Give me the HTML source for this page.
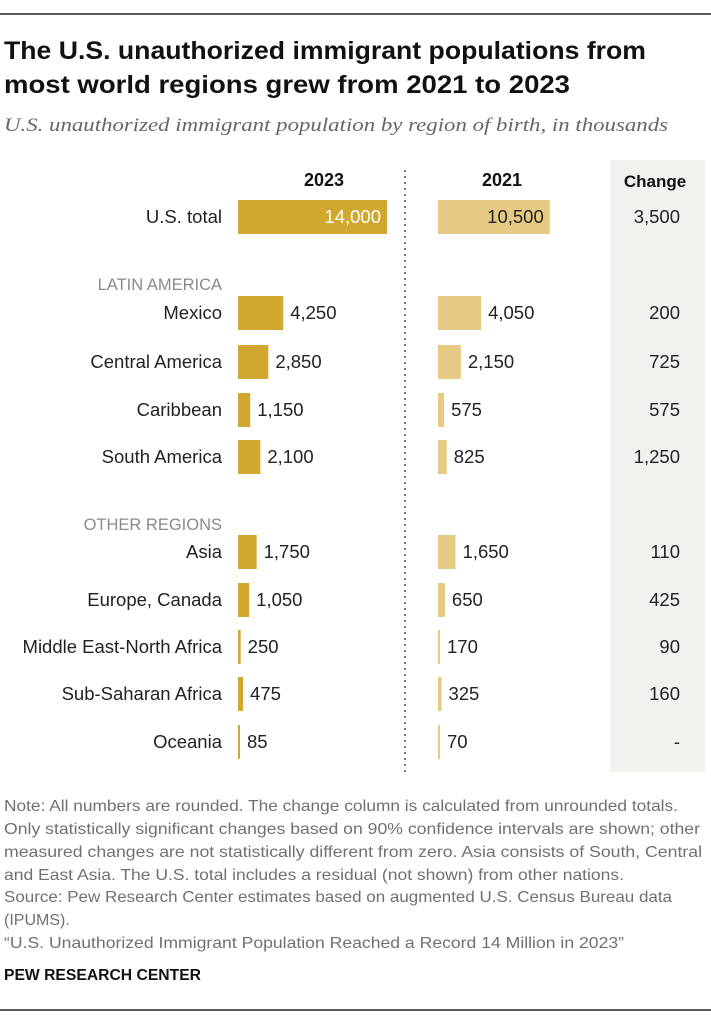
<!DOCTYPE html>
<html><head><meta charset="utf-8"><style>
body{margin:0;background:#fff;}
svg text{font-family:"Liberation Sans",sans-serif;}
</style></head><body>
<svg id="c" width="711" height="1024" xmlns="http://www.w3.org/2000/svg">
<line x1="0" y1="14" x2="711" y2="14" stroke="#222" stroke-width="1.5"/>
<text x="4" y="59" font-size="25" font-weight="bold" fill="#111" textLength="642" lengthAdjust="spacingAndGlyphs">The U.S. unauthorized immigrant populations from</text>
<text x="4" y="93" font-size="25" font-weight="bold" fill="#111" textLength="566" lengthAdjust="spacingAndGlyphs">most world regions grew from 2021 to 2023</text>
<text x="4" y="131" font-size="19" font-style="italic" fill="#666" style="font-family:'Liberation Serif',serif" textLength="664" lengthAdjust="spacingAndGlyphs">U.S. unauthorized immigrant population by region of birth, in thousands</text>
<rect x="610" y="160" width="95" height="612" fill="#f2f1ee"/>
<line x1="405" y1="170" x2="405" y2="772" stroke="#777" stroke-width="2" stroke-dasharray="2,4"/>
<text x="324" y="186" font-size="18" font-weight="bold" text-anchor="middle" fill="#111">2023</text>
<text x="502" y="186" font-size="18" font-weight="bold" text-anchor="middle" fill="#111">2021</text>
<text x="655" y="187" font-size="17" font-weight="bold" text-anchor="middle" fill="#111">Change</text>
<text x="222" y="290" font-size="16.5" text-anchor="end" fill="#8a8a8a">LATIN AMERICA</text>
<text x="222" y="530" font-size="16.5" text-anchor="end" fill="#8a8a8a">OTHER REGIONS</text>
<g id="rows"></g>
<text x="4" y="811" font-size="16" fill="#707070" textLength="674" lengthAdjust="spacingAndGlyphs">Note: All numbers are rounded. The change column is calculated from unrounded totals.</text>
<text x="4" y="834" font-size="16" fill="#707070" textLength="696" lengthAdjust="spacingAndGlyphs">Only statistically significant changes based on 90% confidence intervals are shown; other</text>
<text x="4" y="857" font-size="16" fill="#707070" textLength="698" lengthAdjust="spacingAndGlyphs">measured changes are not statistically different from zero. Asia consists of South, Central</text>
<text x="4" y="880" font-size="16" fill="#707070" textLength="620" lengthAdjust="spacingAndGlyphs">and East Asia. The U.S. total includes a residual (not shown) from other nations.</text>
<text x="4" y="902" font-size="16" fill="#707070" textLength="668" lengthAdjust="spacingAndGlyphs">Source: Pew Research Center estimates based on augmented U.S. Census Bureau data</text>
<text x="4" y="925" font-size="16" fill="#707070">(IPUMS).</text>
<text x="4" y="948" font-size="16" fill="#707070" textLength="620" lengthAdjust="spacingAndGlyphs">“U.S. Unauthorized Immigrant Population Reached a Record 14 Million in 2023”</text>
<text x="4" y="980" font-size="16" font-weight="bold" fill="#111" textLength="197" lengthAdjust="spacingAndGlyphs">PEW RESEARCH CENTER</text>
<line x1="0" y1="1010" x2="711" y2="1010" stroke="#222" stroke-width="1.5"/>
</svg>
<script>
const categories=["U.S. total","Mexico","Central America","Caribbean","South America","Asia","Europe, Canada","Middle East-North Africa","Sub-Saharan Africa","Oceania"];
const values2023=[14000,4250,2850,1150,2100,1750,1050,250,475,85];
const values2021=[10500,4050,2150,575,825,1650,650,170,325,70];
const changes=["3,500","200","725","575","1,250","110","425","90","160","-"];
const rowY=[217,313,362,410,457,552,600,647,694,742];
const NS="http://www.w3.org/2000/svg";
const g=document.getElementById("rows");
const sx=v=>v*149/14000;
const fmt=v=>v.toLocaleString("en-US");
const FS=18.5;
function mk(tag,attrs,txt){const e=document.createElementNS(NS,tag);for(const k in attrs)e.setAttribute(k,attrs[k]);if(txt!==undefined)e.textContent=txt;g.appendChild(e);return e;}
categories.forEach((c,i)=>{
  const y=rowY[i];
  const l=mk("text",{x:222,y:y+6,"font-size":FS,"text-anchor":"end",fill:"#222"},c);
  
  
  const w1=Math.max(sx(values2023[i]),2);
  const b1=mk("rect",{x:238,y:y-17,width:w1,height:34,fill:"#d2a72f"});
  
  
  const w2=Math.max(sx(values2021[i]),2);
  const b2=mk("rect",{x:438,y:y-17,width:w2,height:34,fill:"#e4ca82"});
  
  
  let t1,t2;
  if(i===0){
    t1=mk("text",{x:238+w1-6,y:y+6,"font-size":FS,"text-anchor":"end",fill:"#fff"},fmt(values2023[i]));
    t2=mk("text",{x:438+w2-6,y:y+6,"font-size":FS,"text-anchor":"end",fill:"#222"},fmt(values2021[i]));
  }else{
    t1=mk("text",{x:238+w1+7,y:y+6,"font-size":FS,fill:"#222"},fmt(values2023[i]));
    t2=mk("text",{x:438+w2+7,y:y+6,"font-size":FS,fill:"#222"},fmt(values2021[i]));
  }
  
  
  
  
  const ch=mk("text",{x:680,y:y+6,"font-size":FS,"text-anchor":"end",fill:"#222"},changes[i]);
  
  
});
</script>
</body></html>
